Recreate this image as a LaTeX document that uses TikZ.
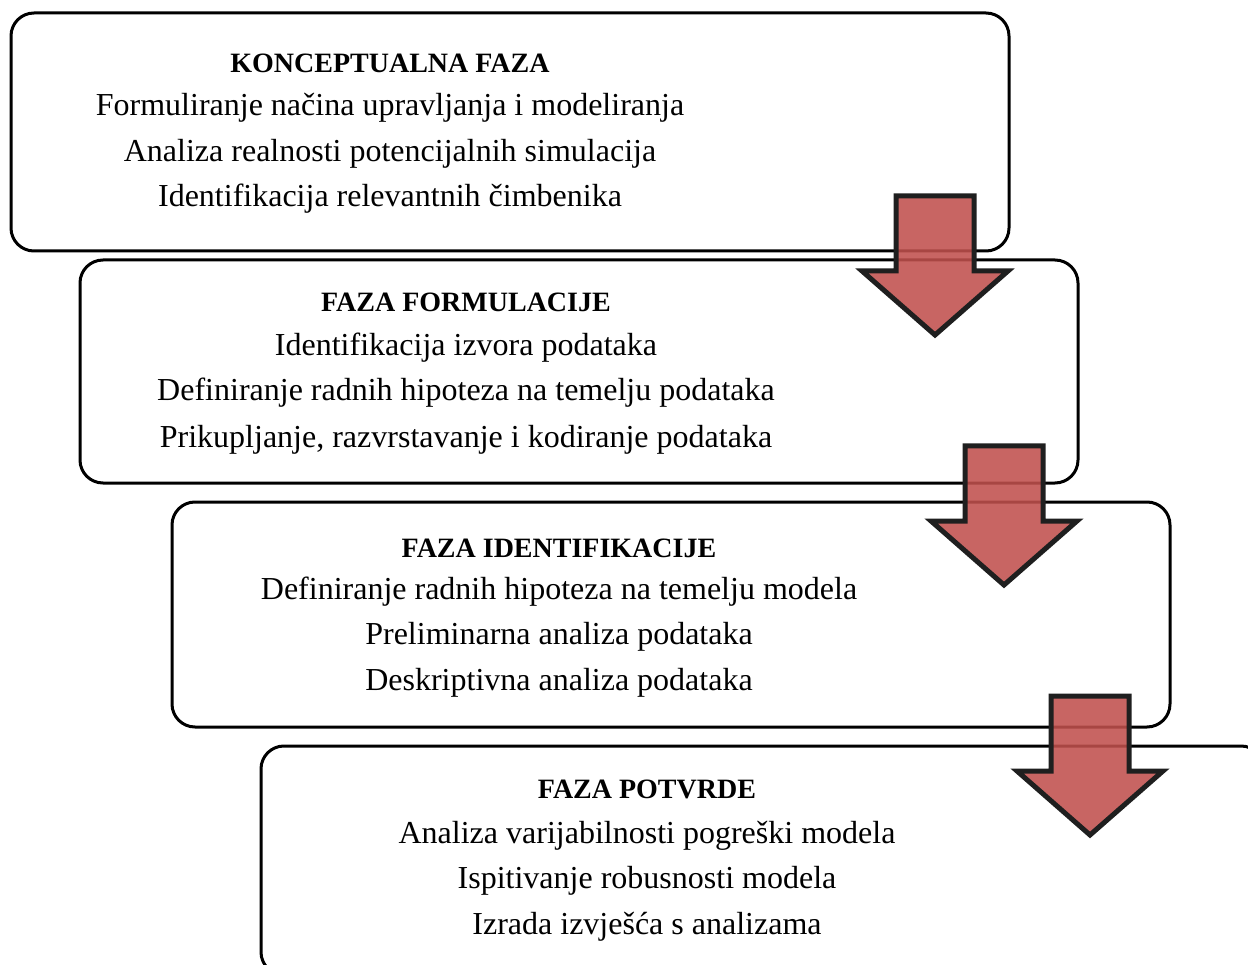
\documentclass[tikz,border=0pt]{standalone}
\usepackage{fontspec}
\setmainfont{Liberation Serif}
\begin{document}
\begin{tikzpicture}[x=1pt,y=-1pt,
  phasebox/.style={draw=black,line width=3pt,rounded corners=23pt},
  titletext/.style={anchor=base,inner sep=0pt,font=\fontsize{28}{32}\selectfont\bfseries},
  bodytext/.style={anchor=base,inner sep=0pt,font=\fontsize{32}{38}\selectfont},
  blockarrow/.style={draw=black!88,line width=5pt,line join=miter,miter limit=10,fill={rgb,255:red,192;green,80;blue,77},fill opacity=0.88}]
\useasboundingbox (0,0) rectangle (1248,965);
\clip (0,0) rectangle (1248,965);
% boxes
\draw[phasebox] (11,13) rectangle (1009,251);
\draw[phasebox] (80,260) rectangle (1078,483);
\draw[phasebox] (172,502) rectangle (1170,727);
\draw[phasebox] (261,746) rectangle (1264,975);
% box 1
\node[titletext] (t1) at (390,73) {KONCEPTUALNA FAZA};
\node[bodytext] (a1) at (390,116) {Formuliranje načina upravljanja i modeliranja};
\node[bodytext] (a2) at (390,162) {Analiza realnosti potencijalnih simulacija};
\node[bodytext] (a3) at (390,207) {Identifikacija relevantnih čimbenika};
% box 2
\node[titletext] (t2) at (466,312) {FAZA FORMULACIJE};
\node[bodytext] (b1) at (466,356) {Identifikacija izvora podataka};
\node[bodytext] (b2) at (466,401) {Definiranje radnih hipoteza na temelju podataka};
\node[bodytext] (b3) at (466,447) {Prikupljanje, razvrstavanje i kodiranje podataka};
% box 3
\node[titletext] (t3) at (559,557) {FAZA IDENTIFIKACIJE};
\node[bodytext] (c1) at (559,599) {Definiranje radnih hipoteza na temelju modela};
\node[bodytext] (c2) at (559,644) {Preliminarna analiza podataka};
\node[bodytext] (c3) at (559,690) {Deskriptivna analiza podataka};
% box 4
\node[titletext] (t4) at (647,798) {FAZA POTVRDE};
\node[bodytext] (d1) at (647,843) {Analiza varijabilnosti pogreški modela};
\node[bodytext] (d2) at (647,888) {Ispitivanje robusnosti modela};
\node[bodytext] (d3) at (647,934) {Izrada izvješća s analizama};
% arrows
\coordinate (p1) at (935,196);
\coordinate (p2) at (1004,446);
\coordinate (p3) at (1090,696);
\foreach \p in {p1,p2,p3}{
  \draw[blockarrow] (\p) ++(-39,0) -- ++(78,0) -- ++(0,75) -- ++(34,0) -- ++(-73,64) -- ++(-73,-64) -- ++(34,0) -- cycle;
}
\end{tikzpicture}
\end{document}
